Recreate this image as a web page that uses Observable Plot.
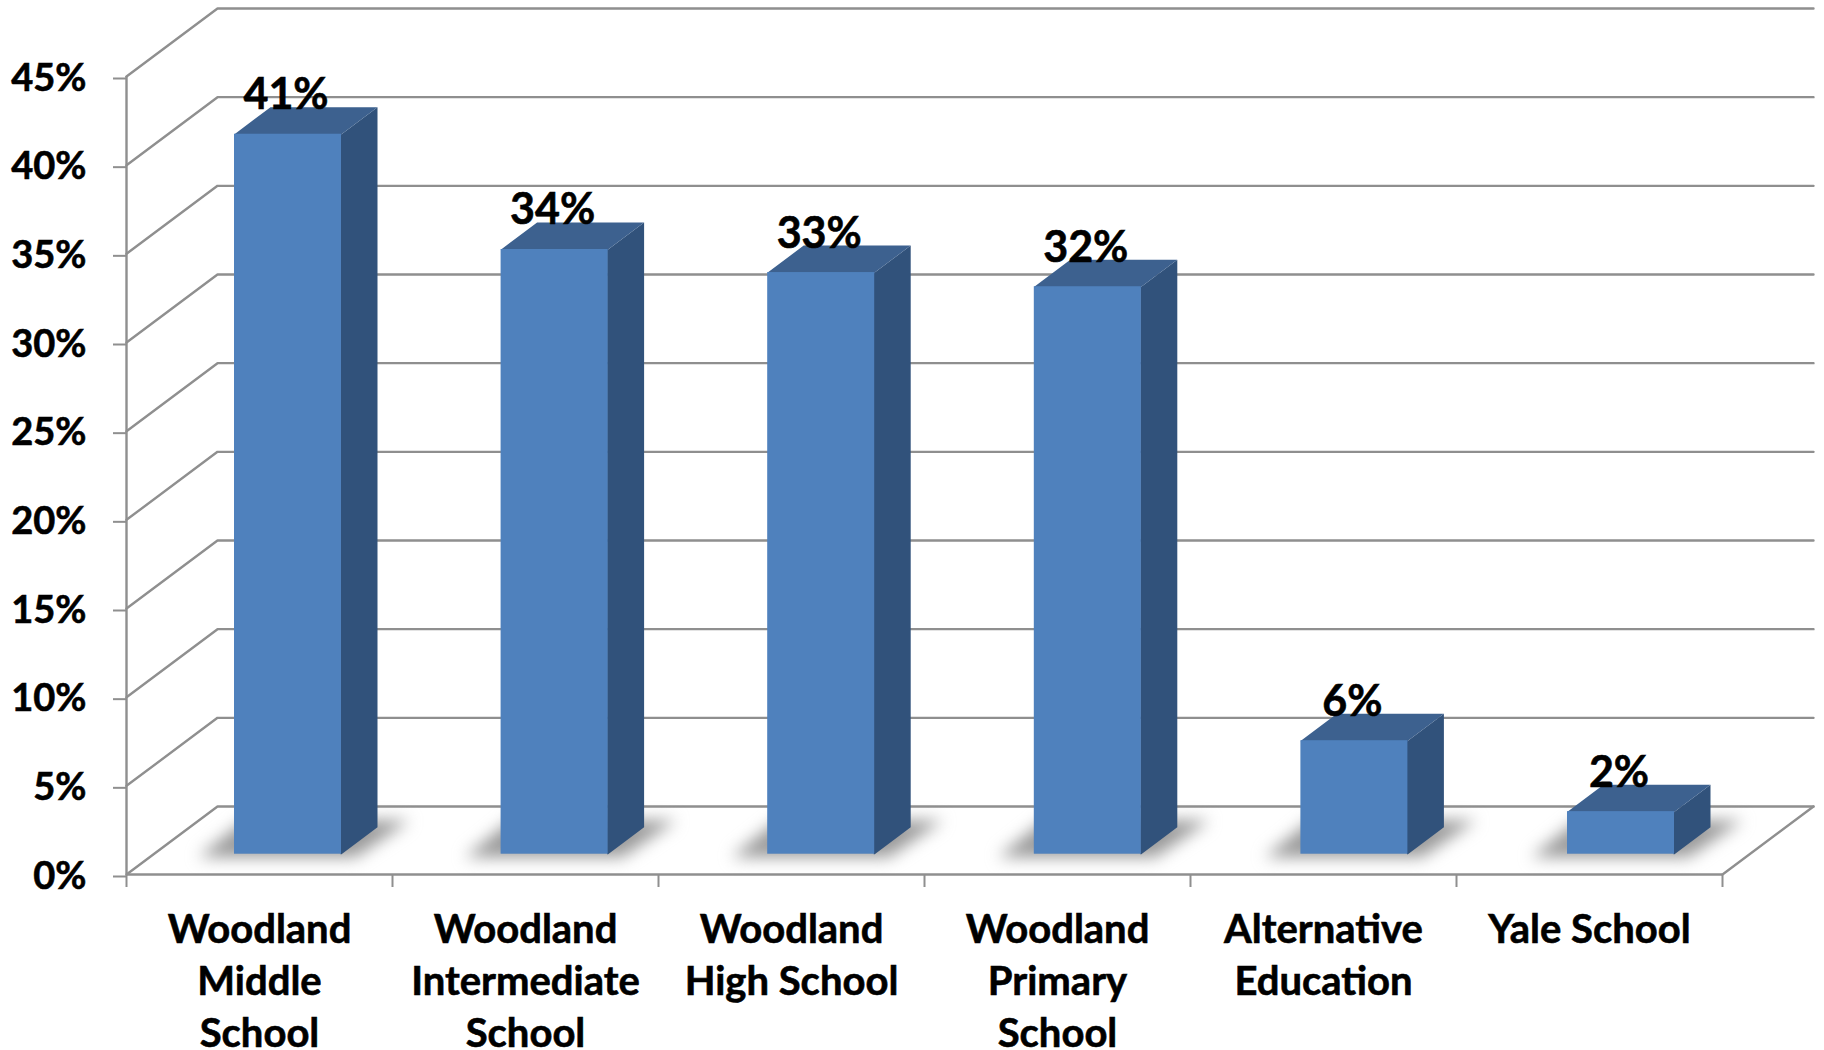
<!DOCTYPE html>
<html>
<head>
<meta charset="utf-8">
<script src="https://cdn.jsdelivr.net/npm/d3@7"></script>
<script src="https://cdn.jsdelivr.net/npm/@observablehq/plot@0.6"></script>
<style>
html,body{margin:0;padding:0;background:#fff}
svg{display:block;max-width:none}
svg text{stroke:#000;stroke-width:0.6px}
</style>
</head>
<body>
<div id="chart"></div>
<script>
const categories = ["Woodland\nMiddle\nSchool","Woodland\nIntermediate\nSchool","Woodland\nHigh School","Woodland\nPrimary\nSchool","Alternative\nEducation","Yale School"];
const values = [40.6, 34.1, 32.8, 32.0, 6.4, 2.4];
const valueLabels = ["41%","34%","33%","32%","6%","2%"];
const yTicks = [0,5,10,15,20,25,30,35,40,45];

// one chart pixel expressed in scale units (layout: x 266px per category, y 17.73px per percent)
const px = 1/266, py = 45/798;
const wallDX = 91*px, wallDY = 68*py;      // depth of the chart box
const barDX = 36*px, barDY = 27*py;        // depth of each bar
const barW = 107*px, barStep = 266.6*px, barStart = 108*px, barBase = 20.3*py;
const GRID = "#8f8f8f";

const bars = categories.map((c,i)=>{
  const L = barStart + i*barStep, R = L + barW, B = barBase, T = barBase + values[i];
  return {i, L, R, B, T, label: valueLabels[i]};
});
const poly = (fn)=>bars.flatMap(b=>fn(b).map(([x,y])=>({x,y,id:b.i})));

const gridLines = yTicks.flatMap(t=>[[0,t],[wallDX,t+wallDY],[6+wallDX,t+wallDY]].map(([x,y])=>({x,y,id:t})));
const floorEdge = [{x:6,y:0},{x:6+wallDX,y:wallDY}];

const shadows = poly(b=>[
  [b.L-36*px, barBase-3*py],
  [b.R+14*px, barBase-3*py],
  [b.R+68*px, barBase+34*py],
  [b.L+10*px, barBase+34*py]
]);
const sides = poly(b=>[[b.R-1*px,b.B],[b.R,b.B],[b.R+barDX,b.B+barDY],[b.R+barDX,b.T+barDY],[b.R,b.T],[b.R-1*px,b.T]]);
const tops  = poly(b=>[[b.L,b.T-1*py],[b.R,b.T-1*py],[b.R,b.T],[b.R+barDX,b.T+barDY],[b.L+barDX,b.T+barDY],[b.L,b.T]]);

const chart = Plot.plot({
  width:1824, height:1050,
  marginLeft:126, marginRight:102, marginTop:76, marginBottom:176,
  x:{type:"linear", domain:[0,6]},
  y:{type:"linear", domain:[0,45]},
  style:{fontFamily:"Lato, sans-serif", fontWeight:"700", fontSize:"38px", background:"#fff", color:"#000", overflow:"visible"},
  marks:[
    Plot.line(gridLines,{x:"x",y:"y",z:"id",stroke:GRID,strokeWidth:2.4}),
    Plot.line(floorEdge,{x:"x",y:"y",stroke:GRID,strokeWidth:2.4}),
    Plot.ruleX([0],{y1:0,y2:45,stroke:GRID,strokeWidth:2.4}),
    Plot.ruleY([0],{x1:0,x2:6,stroke:GRID,strokeWidth:2.4}),
    Plot.axisX({ticks:[0,1,2,3,4,5,6],tickSize:13,tickFormat:()=>"",stroke:GRID,strokeWidth:2,label:null}),
    Plot.axisY({ticks:yTicks,tickSize:13,tickPadding:27,tickFormat:d=>d+"%",stroke:GRID,strokeWidth:2,fill:"#000",dy:2,label:null}),
    Plot.line(shadows,{x:"x",y:"y",z:"id",fill:"#9a9a9a",stroke:"none",imageFilter:"blur(8px)"}),
    Plot.line(sides,{x:"x",y:"y",z:"id",fill:"#31527b"}),
    Plot.line(tops,{x:"x",y:"y",z:"id",fill:"#3d618f"}),
    Plot.rect(bars,{x1:"L",x2:"R",y1:"B",y2:"T",fill:"#4f81bd"}),
    Plot.text(bars,{x:d=>(d.L+d.R)/2,y:"T",text:"label",dx:-2,dy:-25,lineAnchor:"bottom",fontSize:43,fill:"#000"}),
    Plot.text(categories,{x:(d,i)=>i+0.5,y:()=>0,text:d=>d,dy:31.5,lineAnchor:"top",lineHeight:1.305,fontSize:40,fill:"#000"})
  ]
});
document.getElementById("chart").appendChild(chart);
</script>
</body>
</html>
